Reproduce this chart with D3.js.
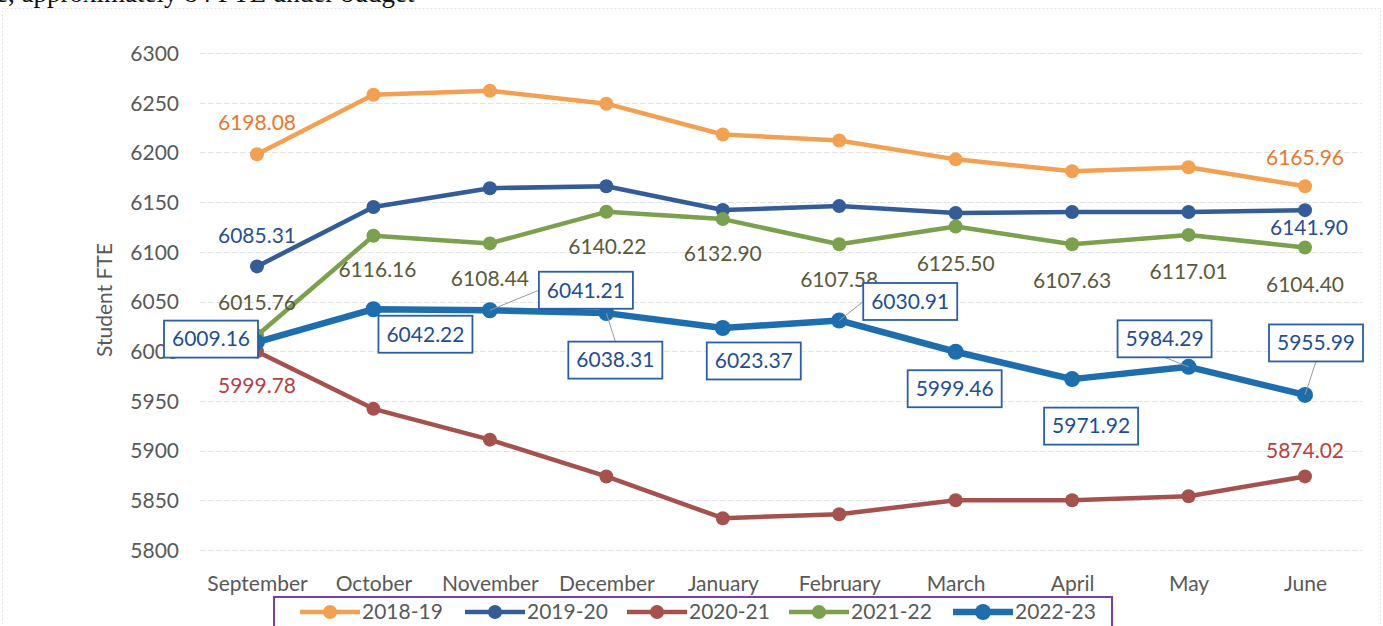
<!DOCTYPE html>
<html>
<head>
<meta charset="utf-8">
<script src="https://cdn.jsdelivr.net/npm/d3@7"></script>
<style>
  html, body { margin: 0; padding: 0; background: #ffffff; }
  svg { display: block; }
</style>
</head>
<body>
<svg id="chart" width="1383" height="626"></svg>
<script>
// ---------------- data ----------------
const months = ["September","October","November","December","January","February","March","April","May","June"];
const seriesNames = ["2018-19","2019-20","2020-21","2021-22","2022-23"];
const fte2018 = [6198.08, 6258, 6262, 6249, 6218, 6212, 6193, 6181, 6185, 6165.96];
const fte2019 = [6085.31, 6145, 6164, 6166, 6142, 6146, 6139, 6140, 6140, 6141.90];
const fte2020 = [5999.78, 5942, 5911, 5874, 5832, 5836, 5850, 5850, 5854, 5874.02];
const fte2021 = [6015.76, 6116.16, 6108.44, 6140.22, 6132.90, 6107.58, 6125.50, 6107.63, 6117.01, 6104.40];
const fte2022 = [6009.16, 6042.22, 6041.21, 6038.31, 6023.37, 6030.91, 5999.46, 5971.92, 5984.29, 5955.99];
const yTicks = [5800, 5850, 5900, 5950, 6000, 6050, 6100, 6150, 6200, 6250, 6300];
const yTitle = "Student FTE";
const headText = "e, approximately 84 FTE under budget";

// ---------------- styling / layout ----------------
const colors = ["#F2A153", "#345D98", "#A5524F", "#7BA14E", "#1E6EAE"];
const labelColors = ["#E9782F", "#2C4F92", "#B8403E", "#5A5A3C", "#1F4E96"];
const strokeW = [4.5, 4.5, 4.5, 4.5, 6.5];
const radius = [7, 7, 7, 7, 8];
const FONT = "Lato, 'Open Sans', sans-serif";

const plainLabels = [
  {s:0, i:0, dx:0, dy:-32}, {s:0, i:9, dx:0, dy:-29},
  {s:1, i:0, dx:0, dy:-31}, {s:1, i:9, dx:4, dy:17},
  {s:2, i:0, dx:0, dy:34}, {s:2, i:9, dx:0, dy:-26},
  {s:3, i:0, dx:0, dy:-33}, {s:3, i:1, dx:4, dy:34}, {s:3, i:2, dx:0, dy:35},
  {s:3, i:3, dx:1, dy:35}, {s:3, i:4, dx:0, dy:35}, {s:3, i:5, dx:0, dy:35},
  {s:3, i:6, dx:0, dy:37}, {s:3, i:7, dx:0, dy:36}, {s:3, i:8, dx:0, dy:37},
  {s:3, i:9, dx:0, dy:37}
];
const boxOffsets = [[-46,-3],[52,25],[96,-20],[9,47],[31,33],[71,-19],[-1,37],[19,47],[-24,-28],[11,-52]];
// leader target side: null = none, "left", "top", "bottom"
const boxLeader = [null, null, "left", "top", null, "left", null, null, "bottom", "bottom"];

const allSeries = [fte2018, fte2019, fte2020, fte2021, fte2022];

const svg = d3.select("#chart");

const x = d3.scalePoint().domain(months).range([257, 1305]);
const y = d3.scaleLinear().domain([5800, 6300]).range([550, 53]);

svg.append("rect").attr("x", 2.5).attr("y", 8.5).attr("width", 1378).attr("height", 640)
  .attr("fill", "none").attr("stroke", "#E4E4EC").attr("stroke-width", 1).attr("stroke-dasharray", "2,2");

svg.append("text").attr("x", -4).attr("y", 2).attr("font-family", "'Liberation Serif', serif")
  .attr("font-size", 27).attr("fill", "#111").text(headText);

// gridlines
svg.append("g").selectAll("line").data(yTicks).join("line")
  .attr("x1", 200).attr("x2", 1362)
  .attr("y1", d => Math.round(y(d)) + 0.5).attr("y2", d => Math.round(y(d)) + 0.5)
  .attr("stroke", "#E3E3EA").attr("stroke-width", 1.2).attr("stroke-dasharray", "6,2");

// y axis labels
const yAxis = d3.axisLeft(y).tickValues(yTicks).tickFormat(d3.format("d")).tickSize(0).tickPadding(0);
const ya = svg.append("g").attr("transform", "translate(179,0)").call(yAxis);
ya.select(".domain").remove();
ya.selectAll("text").attr("font-family", FONT).attr("font-size", 21).attr("fill", "#595959").attr("dy", "0.35em");

// x axis labels
const xAxis = d3.axisBottom(x).tickSize(0).tickPadding(0);
const xa = svg.append("g").attr("transform", "translate(0,584)").call(xAxis);
xa.select(".domain").remove();
xa.selectAll("text").attr("font-family", FONT).attr("font-size", 21).attr("fill", "#595959").attr("dy", "0.35em");

svg.append("text").attr("transform", "translate(112,300) rotate(-90)")
  .attr("text-anchor", "middle").attr("font-family", FONT).attr("font-size", 21)
  .attr("fill", "#595959").text(yTitle);

// lines
const line = d3.line().x((d, i) => x(months[i])).y(d => y(d));
allSeries.forEach((vals, s) => {
  const g = svg.append("g");
  g.append("path").datum(vals).attr("d", line).attr("fill", "none")
    .attr("stroke", colors[s]).attr("stroke-width", strokeW[s]).attr("stroke-linejoin", "round");
  g.selectAll("circle").data(vals).join("circle")
    .attr("cx", (d, i) => x(months[i])).attr("cy", d => y(d)).attr("r", radius[s]).attr("fill", colors[s]);
});

// plain data labels
svg.append("g").selectAll("text").data(plainLabels).join("text")
  .attr("x", d => x(months[d.i]) + d.dx).attr("y", d => y(allSeries[d.s][d.i]) + d.dy)
  .attr("text-anchor", "middle").attr("dy", "0.35em")
  .attr("font-family", FONT).attr("font-size", 21).attr("fill", d => labelColors[d.s])
  .text(d => allSeries[d.s][d.i].toFixed(2));

// boxed labels for 2022-23
const bw = 94, bh = 37;
const boxG = svg.append("g");
fte2022.forEach((v, i) => {
  const px = x(months[i]), py = y(v);
  const cx = px + boxOffsets[i][0], cy = py + boxOffsets[i][1];
  const side = boxLeader[i];
  if (side) {
    let nx = cx, ny = cy;
    if (side === "left") { nx = cx - bw/2; ny = cy; }
    if (side === "top") { nx = cx; ny = cy - bh/2; }
    if (side === "bottom") { nx = cx; ny = cy + bh/2; }
    boxG.append("line").attr("x1", px).attr("y1", py).attr("x2", nx).attr("y2", ny)
      .attr("stroke", "#9A9A9A").attr("stroke-width", 1);
  }
  boxG.append("rect").attr("x", cx - bw/2).attr("y", cy - bh/2).attr("width", bw).attr("height", bh)
    .attr("fill", "#ffffff").attr("stroke", "#2A5EA6").attr("stroke-width", 1.8);
  boxG.append("text").attr("x", cx).attr("y", cy).attr("dy", "0.35em").attr("text-anchor", "middle")
    .attr("font-family", FONT).attr("font-size", 21).attr("fill", labelColors[4]).text(v.toFixed(2));
});

// legend
const lg = svg.append("g");
lg.append("rect").attr("x", 274).attr("y", 597).attr("width", 838).attr("height", 50)
  .attr("fill", "none").attr("stroke", "#7A3FA6").attr("stroke-width", 2);
const legX = [300, 465, 627, 789, 953];
seriesNames.forEach((n, s) => {
  const lx = legX[s], ly = 612;
  lg.append("line").attr("x1", lx).attr("x2", lx + 60).attr("y1", ly).attr("y2", ly)
    .attr("stroke", colors[s]).attr("stroke-width", strokeW[s]);
  lg.append("circle").attr("cx", lx + 30).attr("cy", ly).attr("r", radius[s]).attr("fill", colors[s]);
  lg.append("text").attr("x", lx + 62).attr("y", ly).attr("dy", "0.35em")
    .attr("font-family", FONT).attr("font-size", 21).attr("fill", "#595959").text(n);
});
</script>
</body>
</html>
